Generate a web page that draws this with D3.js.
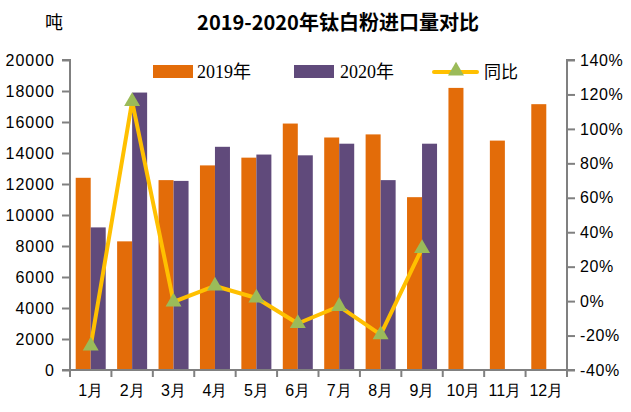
<!DOCTYPE html>
<html><head><meta charset="utf-8">
<script src="https://cdn.jsdelivr.net/npm/d3@7"></script>
<style>
html,body{margin:0;padding:0;background:#fff;}
svg{display:block;}
</style></head>
<body>
<svg id="chart" width="631" height="412"></svg>
<script>
const months = ["1月","2月","3月","4月","5月","6月","7月","8月","9月","10月","11月","12月"];
const series2019 = [12400,8300,12250,13200,13700,15900,15000,15200,11150,18200,14800,17150];
const series2020 = [9200,17900,12200,14400,13900,13850,14600,12250,14600,null,null,null];
const yoy = [-26,116,-0.5,8.8,1.8,-13,-3,-19.5,30.6];
const leftTicks = [0,2000,4000,6000,8000,10000,12000,14000,16000,18000,20000];
const rightTicks = [-40,-20,0,20,40,60,80,100,120,140];
const seriesNames = ["2019年","2020年","同比"];
const title = "2019-2020年钛白粉进口量对比";
const unit = "吨";

const C19 = "#E36C09", C20 = "#604A7B", CL = "#FFC000", CM = "#9BBB59", AX = "#808080";
const svg = d3.select("#chart");
const L = 70, R = 567, T = 60, B = 370;

const x0 = d3.scaleBand().domain(months).range([L, R]).padding(0);
const x1 = d3.scaleBand().domain(["2019","2020"]).range([0, x0.bandwidth()]).paddingInner(0).paddingOuter(0.38);
const y = d3.scaleLinear().domain([0, 20000]).range([B, T]);
const y2 = d3.scaleLinear().domain([-40, 140]).range([B, T]);

// bars
const g = svg.append("g");
g.selectAll("rect.b19").data(series2019).enter().append("rect")
  .attr("x", (d,i) => x0(months[i]) + x1("2019"))
  .attr("y", d => y(d)).attr("width", x1.bandwidth()).attr("height", d => B - y(d))
  .attr("fill", C19);
g.selectAll("rect.b20").data(series2020.map((d,i)=>({d,i})).filter(o=>o.d!=null)).enter().append("rect")
  .attr("x", o => x0(months[o.i]) + x1("2020"))
  .attr("y", o => y(o.d)).attr("width", x1.bandwidth()).attr("height", o => B - y(o.d))
  .attr("fill", C20);

// axes
const fontTick = "'Liberation Sans', Arial, sans-serif";
const la = svg.append("g").attr("transform", `translate(${L},0)`)
  .call(d3.axisLeft(y).tickValues(leftTicks).tickSize(8).tickPadding(7).tickFormat(d3.format("d")));
const ra = svg.append("g").attr("transform", `translate(${R},0)`)
  .call(d3.axisRight(y2).tickValues(rightTicks).tickSize(8).tickPadding(5).tickFormat(d => d + "%"));
const ba = svg.append("g").attr("transform", `translate(0,${B})`)
  .call(d3.axisBottom(x0).tickSize(0).tickPadding(12));
// bottom tick marks at boundaries
const bounds = months.map(m => x0(m)).concat([R]);
svg.append("g").selectAll("line").data(bounds).enter().append("line")
  .attr("x1", d => d).attr("x2", d => d).attr("y1", B).attr("y2", B + 7)
  .attr("stroke", AX).attr("stroke-width", 2);
[la, ra, ba].forEach(a => {
  a.selectAll("path.domain").attr("stroke", AX).attr("stroke-width", 2);
  a.selectAll(".tick line").attr("stroke", AX).attr("stroke-width", 2);
  a.selectAll("text").attr("fill", "#000").style("font-family", fontTick).style("font-size", "16px");
});
la.selectAll("text").style("letter-spacing", "1px");
ra.selectAll("text").style("letter-spacing", "0.6px");
la.select("path.domain").attr("d", `M-8,${T}H0V${B}H-8`);
ra.select("path.domain").attr("d", `M8,${T}H0V${B}H8`);
ba.select("path.domain").attr("d", `M${L},0H${R}`);
ba.selectAll("text").attr("dy", "0.9em");

// line
const cx = i => x0(months[i]) + x0.bandwidth() / 2;
const line = d3.line().x((d,i) => cx(i)).y(d => y2(d));
svg.append("path").datum(yoy).attr("d", line).attr("fill", "none")
  .attr("stroke", CL).attr("stroke-width", 4).attr("stroke-linejoin", "round");
const tri = d3.symbol().type(d3.symbolTriangle).size(110);
svg.selectAll("path.mk").data(yoy).enter().append("path")
  .attr("transform", (d,i) => `translate(${cx(i)},${y2(d)})`)
  .attr("d", tri).attr("fill", CM);

// title
svg.append("text").attr("x", 338).attr("y", 30).attr("text-anchor", "middle")
  .style("font-family", "'Noto Sans CJK SC', sans-serif").style("font-weight", "bold").style("font-size", "20px")
  .text(title);
svg.append("text").attr("x", 54).attr("y", 29).attr("text-anchor", "middle")
  .style("font-family", "'Noto Sans CJK SC', sans-serif").style("font-size", "18px")
  .text(unit);

// legend
const lg = svg.append("g");
const legFont = "'Liberation Serif', 'Noto Sans CJK SC', serif";
lg.append("rect").attr("x", 153).attr("y", 65).attr("width", 40).attr("height", 13).attr("fill", C19);
lg.append("text").attr("x", 197).attr("y", 78).text(seriesNames[0]).style("font-family", legFont).style("font-size", "18px");
lg.append("rect").attr("x", 294).attr("y", 65).attr("width", 40).attr("height", 13).attr("fill", C20);
lg.append("text").attr("x", 340).attr("y", 78).text(seriesNames[1]).style("font-family", legFont).style("font-size", "18px");
lg.append("line").attr("x1", 434).attr("x2", 477).attr("y1", 72).attr("y2", 72).attr("stroke", CL).attr("stroke-width", 4).attr("stroke-linecap", "round");
lg.append("path").attr("transform", "translate(456,71)").attr("d", tri).attr("fill", CM);
lg.append("text").attr("x", 484).attr("y", 78).text(seriesNames[2]).style("font-family", "'Noto Sans CJK SC', sans-serif").style("font-size", "17px");
</script>
</body></html>
